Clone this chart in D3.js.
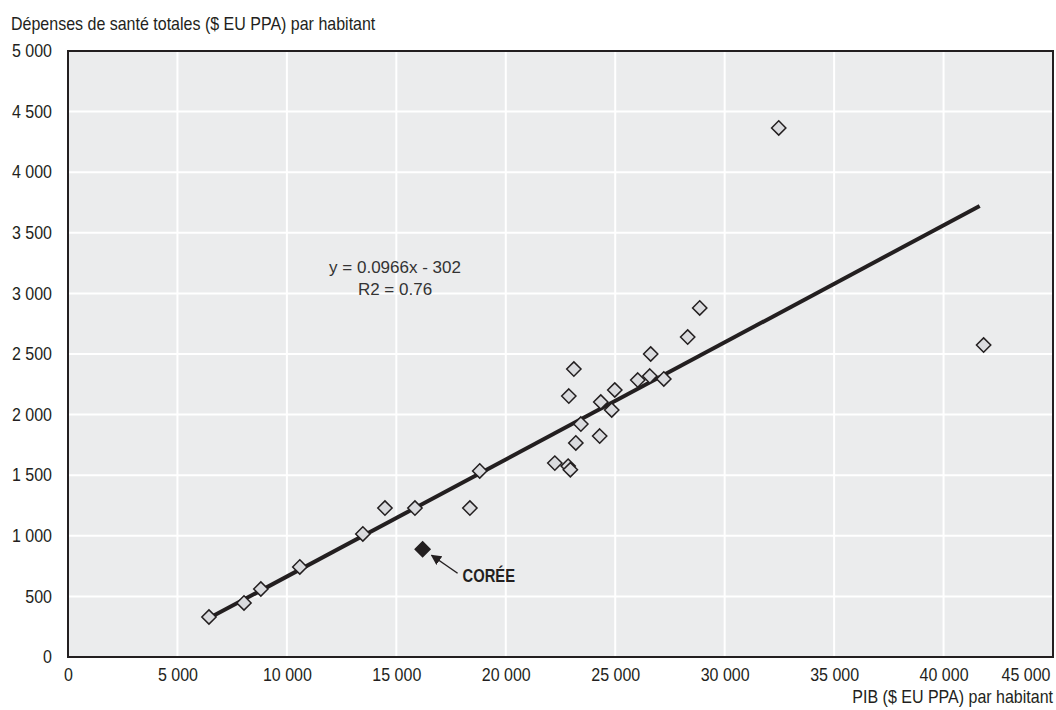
<!DOCTYPE html>
<html>
<head>
<meta charset="utf-8">
<script src="https://cdn.jsdelivr.net/npm/d3@7"></script>
<style>
  body { margin: 0; background: #fff; }
  svg text { font-family: "Liberation Sans", Arial, sans-serif; fill: #231f20; }
</style>
</head>
<body>
<script>
// GDP per capita (x) and total health spending per capita (y), USD PPP
var gdp = [6440, 8040, 8810, 10590, 13470, 14480, 15850, 18360, 18810, 22240,
           22850, 22950, 23200, 24290, 23430, 24340, 24840, 24980, 22880, 23110,
           26030, 26580, 27220, 26620, 28310, 28860, 32470, 41830];
var health = [330, 446, 561, 743, 1015, 1229, 1229, 1229, 1535, 1600,
              1575, 1545, 1766, 1823, 1922, 2104, 2038, 2203, 2153, 2376,
              2285, 2318, 2294, 2500, 2640, 2880, 4365, 2574];
var korea = { x: 16200, y: 889, label: "CORÉE" };
var slope = 0.0966, intercept = -302;
var trendX = [6620, 41650];
var xTicks = [0, 5000, 10000, 15000, 20000, 25000, 30000, 35000, 40000, 45000];
var yTicks = [0, 500, 1000, 1500, 2000, 2500, 3000, 3500, 4000, 4500, 5000];

var margin = { top: 51, right: 3, bottom: 53, left: 68 },
    width = 1056 - margin.left - margin.right,
    height = 710 - margin.top - margin.bottom;
var squeeze = 0.89; // condensed look

var svg = d3.select('body').append('svg')
    .attr('width', 1056)
    .attr('height', 710);
var g = svg.append('g')
    .attr('transform', 'translate(' + margin.left + ',' + margin.top + ')');

var x = d3.scaleLinear().domain([0, 45000]).range([0, width]);
var y = d3.scaleLinear().domain([0, 5000]).range([height, 0]);
var fmt = function(d){ return d3.format(',')(d).replace(/,/g, ' '); };

// plot background
g.append('rect').attr('width', width).attr('height', height).attr('fill', '#ebeced');

// grid
g.selectAll('.vgrid').data(xTicks.slice(1, -1)).enter().append('line')
  .attr('x1', x).attr('x2', x).attr('y1', 0).attr('y2', height)
  .attr('stroke', '#fff').attr('stroke-width', 2);
g.selectAll('.hgrid').data(yTicks.slice(1, -1)).enter().append('line')
  .attr('y1', y).attr('y2', y).attr('x1', 0).attr('x2', width)
  .attr('stroke', '#fff').attr('stroke-width', 2);

// axes (labels only)
var xAxis = g.append('g').attr('transform', 'translate(0,' + height + ')')
  .call(d3.axisBottom(x).tickValues(xTicks).tickFormat(fmt).tickSize(0).tickPadding(11));
var yAxis = g.append('g')
  .call(d3.axisLeft(y).tickValues(yTicks).tickFormat(fmt).tickSize(0).tickPadding(18));
[xAxis, yAxis].forEach(function(a){
  a.select('.domain').remove();
  a.selectAll('text').attr('font-size', 18).attr('fill', '#231f20')
    .attr('transform', 'scale(' + squeeze + ',1)')
    .style('font-family', '"Liberation Sans", Arial, sans-serif');
});
// last x label sits inside the edge
xAxis.selectAll('.tick').filter(function(d){ return d === 45000; }).select('text')
  .attr('text-anchor', 'end').attr('x', -3 / squeeze);

// frame
g.append('rect').attr('width', width).attr('height', height)
  .attr('fill', 'none').attr('stroke', '#231f20').attr('stroke-width', 2);

// trend line
var line = d3.line().x(function(d){ return x(d); }).y(function(d){ return y(slope * d + intercept); });
g.append('path').attr('d', line(trendX))
  .attr('stroke', '#231f20').attr('stroke-width', 4).attr('fill', 'none');

// points
var diamond = d3.symbol().type(d3.symbolDiamond2).size(130);
g.selectAll('.pt').data(gdp).enter().append('path')
  .attr('d', diamond)
  .attr('transform', function(d, i){ return 'translate(' + x(d) + ',' + y(health[i]) + ')'; })
  .attr('fill', '#dadbde').attr('stroke', '#231f20').attr('stroke-width', 1.5);

g.append('path').attr('d', d3.symbol().type(d3.symbolDiamond2).size(140))
  .attr('transform', 'translate(' + x(korea.x) + ',' + y(korea.y) + ')')
  .attr('fill', '#231f20').attr('stroke', '#231f20').attr('stroke-width', 1.5);

// arrow to Korea
svg.append('defs').append('marker').attr('id', 'ah')
  .attr('viewBox', '0 0 10 10').attr('refX', 9).attr('refY', 5)
  .attr('markerWidth', 7).attr('markerHeight', 7).attr('orient', 'auto-start-reverse')
  .append('path').attr('d', 'M0,0L10,5L0,10z').attr('fill', '#231f20');
var kx = x(korea.x), ky = y(korea.y);
g.append('line').attr('x1', kx + 35).attr('y1', ky + 24).attr('x2', kx + 9).attr('y2', ky + 6)
  .attr('stroke', '#231f20').attr('stroke-width', 1.5).attr('marker-end', 'url(#ah)');
g.append('text').attr('transform', 'translate(' + (kx + 40) + ',' + (ky + 32.5) + ') scale(0.82,1)')
  .attr('font-size', 18).attr('font-weight', 'bold').text(korea.label);

// equation
g.append('text').attr('x', x(14940)).attr('y', 222).attr('text-anchor', 'middle')
  .attr('font-size', 17).style('fill', '#333').text('y = 0.0966x - 302');
g.append('text').attr('x', x(14940)).attr('y', 244).attr('text-anchor', 'middle')
  .attr('font-size', 17).style('fill', '#333').text('R2 = 0.76');

// axis titles
svg.append('text').attr('transform', 'translate(11,30) scale(' + squeeze + ',1)').attr('font-size', 18)
  .text('Dépenses de santé totales ($ EU PPA) par habitant');
svg.append('text').attr('transform', 'translate(1053,703) scale(' + squeeze + ',1)')
  .attr('text-anchor', 'end').attr('font-size', 18)
  .text('PIB ($ EU PPA) par habitant');
</script>
</body>
</html>
